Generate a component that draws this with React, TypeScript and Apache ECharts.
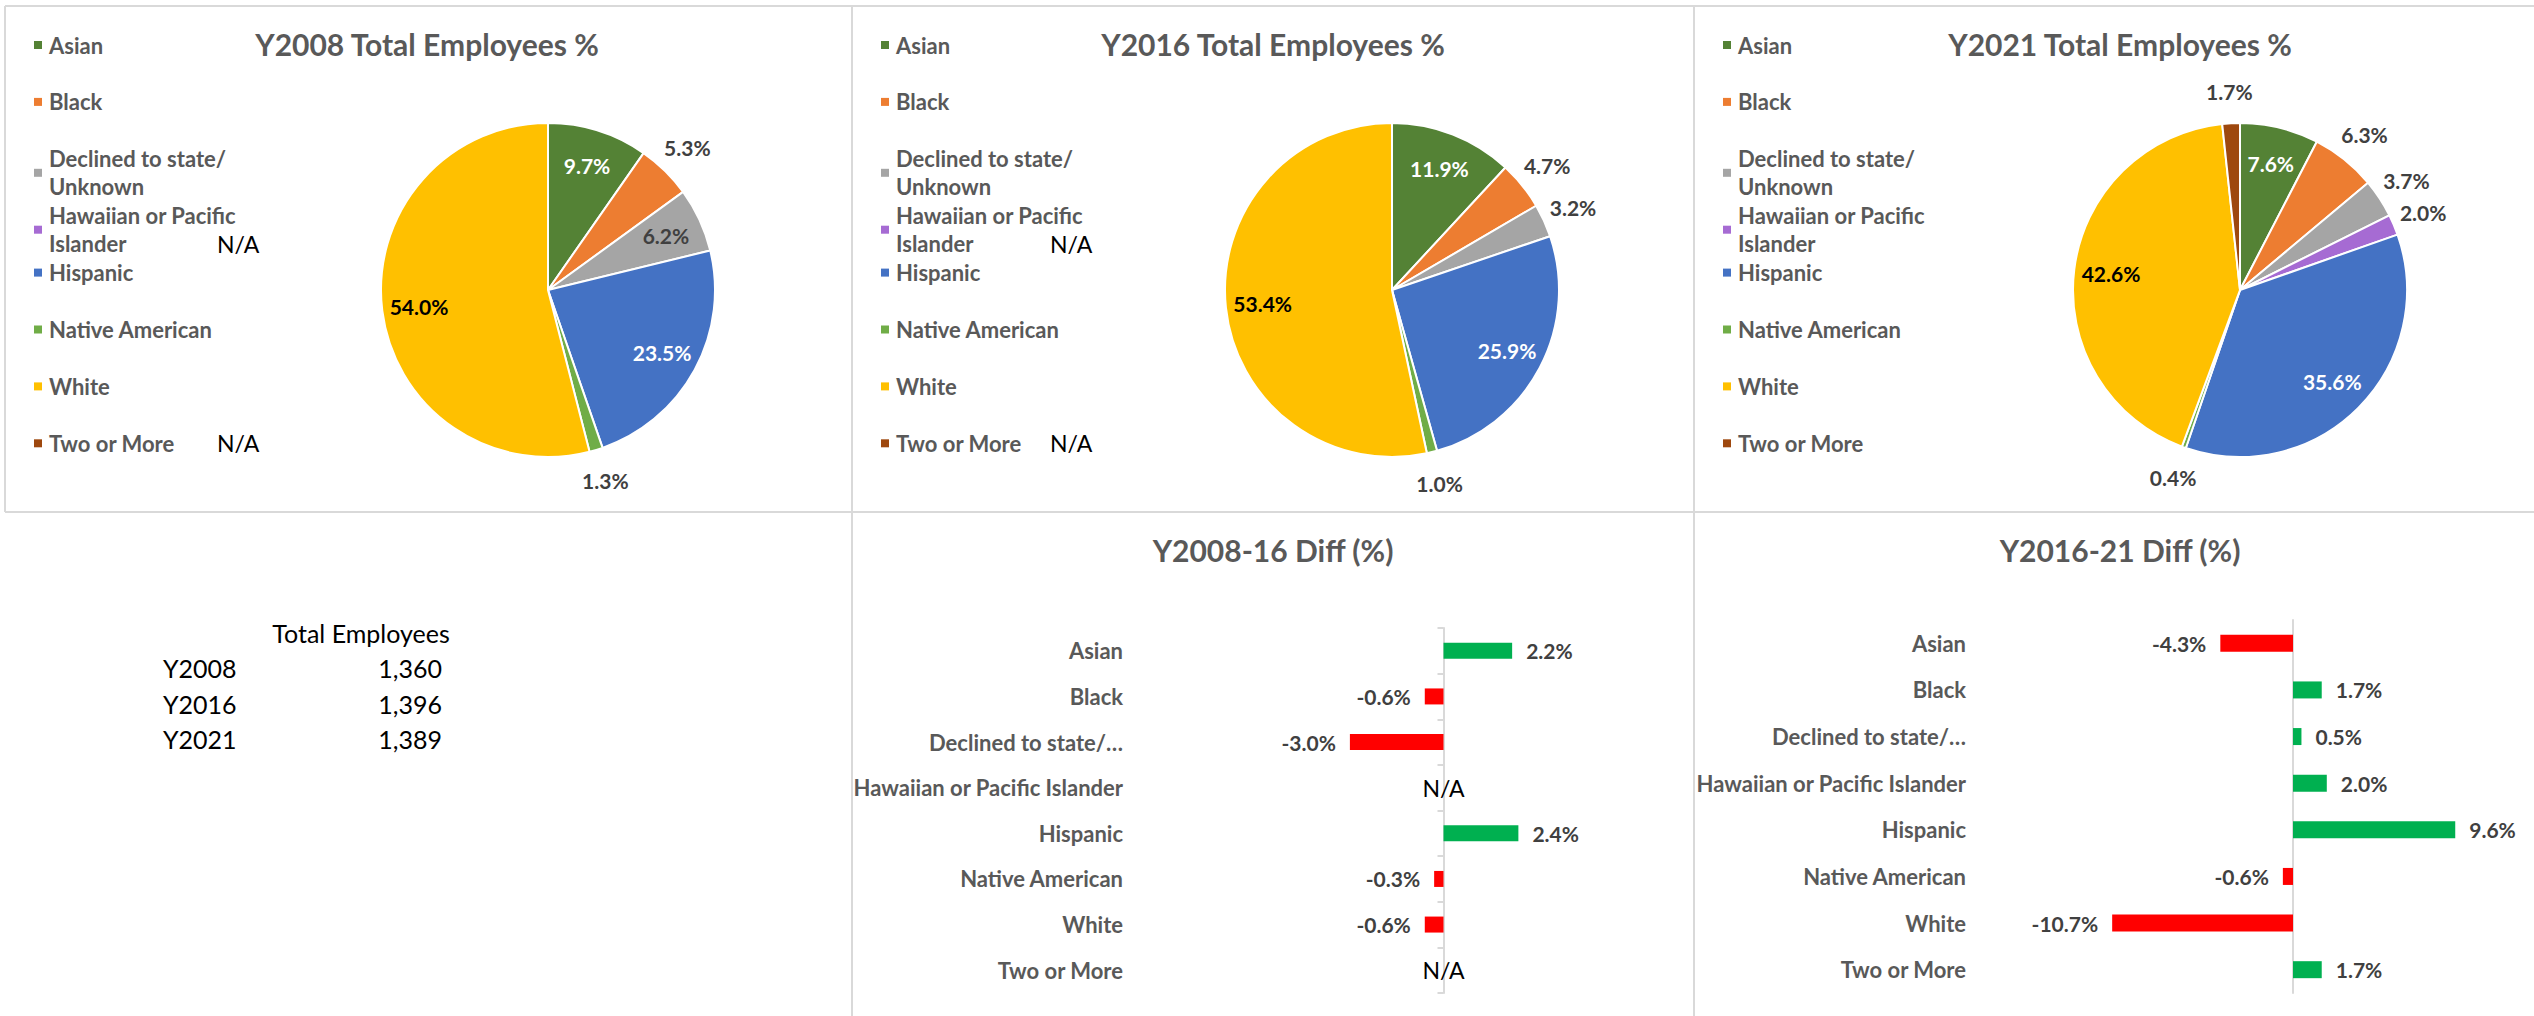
import React, { useEffect, useRef } from 'react';
import * as echarts from 'echarts';

// ---------------- DATA ----------------
const categories = [
  'Asian',
  'Black',
  'Declined to state/ Unknown',
  'Hawaiian or Pacific Islander',
  'Hispanic',
  'Native American',
  'White',
  'Two or More',
];
const pct2008: (number | null)[] = [9.7, 5.3, 6.2, null, 23.5, 1.3, 54.0, null];
const pct2016: (number | null)[] = [11.9, 4.7, 3.2, null, 25.9, 1.0, 53.4, null];
const pct2021: (number | null)[] = [7.6, 6.3, 3.7, 2.0, 35.6, 0.4, 42.6, 1.7];
const diff2008to16: (number | null)[] = [2.2, -0.6, -3.0, null, 2.4, -0.3, -0.6, null];
const diff2016to21: (number | null)[] = [-4.3, 1.7, 0.5, 2.0, 9.6, -0.6, -10.7, 1.7];
const pieTitles = ['Y2008 Total Employees %', 'Y2016 Total Employees %', 'Y2021 Total Employees %'];
const barTitles = ['Y2008-16 Diff (%)', 'Y2016-21 Diff (%)'];
const years = ['Y2008', 'Y2016', 'Y2021'];
const totalEmployees = [1360, 1396, 1389];
const tableHeader = 'Total Employees';
const naText = 'N/A';

// ---------------- STYLE / LAYOUT ----------------
const FONT = "Lato, 'Liberation Sans', sans-serif";
const TITLE_SIZE = 30;
const LEGEND_SIZE = 22;
const AXIS_SIZE = 22;
const VALUE_SIZE = 21;
const TABLE_SIZE = 25;
const NA_SIZE = 23;
const sliceColors = ['#548235', '#ED7D31', '#A5A5A5', '#A66BD3', '#4472C4', '#70AD47', '#FFC000', '#9E480E'];
const insideLabelColor = ['#FFFFFF', '#404040', '#404040', '#404040', '#FFFFFF', '#404040', '#000000', '#404040'];
const labelInside = [
  [true, false, true, false, true, false, true, false],
  [true, false, false, false, true, false, true, false],
  [true, false, false, false, true, false, true, false],
];
const legendLineCount = [1, 1, 2, 2, 1, 1, 1, 1];
const panelLeft = [5, 852, 1694];
const titleCenters = [427, 1273, 2120];
const pieCenters = [[548, 290], [1392, 290], [2240, 290]];
const pieR = 167;
const naLeft = [217, 1050];
const legendFirstY = 45;
const legendStep = 56.9;
const barTitleCenters = [1273, 2120];
const GRAY = '#595959';
const BORDER = '#D9D9D9';

const pieSets = [pct2008, pct2016, pct2021];
const barSets = [diff2008to16, diff2016to21];

function buildOption() {
  const series: any[] = [];
  // visual pies first (legend colour lookup)
  pieSets.forEach((vals, p) => {
    const items = categories
      .map((c, i) => ({ name: c, value: vals[i], i }))
      .filter((d) => d.value != null);
    series.push({
      type: 'pie',
      name: pieTitles[p],
      center: pieCenters[p],
      radius: [0, pieR],
      startAngle: 90,
      clockwise: true,
      avoidLabelOverlap: false,
      label: { show: false },
      labelLine: { show: false },
      itemStyle: { borderColor: '#FFFFFF', borderWidth: 2 },
      emphasis: { disabled: true },
      data: items.map((d) => ({ name: d.name, value: d.value, itemStyle: { color: sliceColors[d.i] } })),
    });
  });
  // label rings (transparent) for inside / outside labels
  pieSets.forEach((vals, p) => {
    const items = categories
      .map((c, i) => ({ name: c, value: vals[i], i }))
      .filter((d) => d.value != null);
    [true, false].forEach((inside) => {
      series.push({
        type: 'pie',
        name: pieTitles[p] + (inside ? ' in' : ' out'),
        center: pieCenters[p],
        radius: inside ? [87, pieR] : [180, 212],
        startAngle: 90,
        clockwise: true,
        silent: true,
        legendHoverLink: false,
        avoidLabelOverlap: false,
        emphasis: { disabled: true },
        labelLine: { show: false },
        itemStyle: { color: 'rgba(0,0,0,0)', borderWidth: 0 },
        label: {
          position: 'inside',
          fontSize: VALUE_SIZE,
          fontWeight: 'bold',
          fontFamily: FONT,
          formatter: (pp: any) => Number(pp.value).toFixed(1) + '%',
        },
        data: items.map((d) => ({
          name: d.name,
          value: d.value,
          itemStyle: { color: 'rgba(0,0,0,0)' },
          label: {
            show: labelInside[p][d.i] === inside,
            color: inside ? insideLabelColor[d.i] : '#404040',
          },
        })),
      });
    });
  });

  // bar charts
  const grids = [
    { left: 1318.7, top: 628, width: 218.4, height: 365 },
    { left: 2090.2, top: 620, width: 371.8, height: 373 },
  ];
  const xRanges = [
    [-4, 3],
    [-12, 10],
  ];
  const labelMargins = [195.7, 124.2];
  const barWidths = [16, 17];
  const xAxis: any[] = [];
  const yAxis: any[] = [];
  barSets.forEach((vals, b) => {
    xAxis.push({
      gridIndex: b,
      type: 'value',
      min: xRanges[b][0],
      max: xRanges[b][1],
      axisLine: { show: false },
      axisTick: { show: false },
      axisLabel: { show: false },
      splitLine: { show: false },
    });
    yAxis.push({
      gridIndex: b,
      type: 'category',
      data: categories,
      inverse: true,
      axisLine: { show: true, onZero: true, lineStyle: { color: BORDER, width: 2 } },
      axisTick: { show: b === 0, length: 6, lineStyle: { color: BORDER, width: 2 } },
      axisLabel: { show: false },
      splitLine: { show: false },
    });
    yAxis.push({
      gridIndex: b,
      type: 'category',
      data: categories,
      inverse: true,
      position: 'left',
      axisLine: { show: false, onZero: false },
      axisTick: { show: false },
      splitLine: { show: false },
      axisLabel: {
        show: true,
        margin: labelMargins[b],
        color: GRAY,
        fontSize: AXIS_SIZE,
        fontWeight: 'bold',
        fontFamily: FONT,
        formatter: (v: string) => (v.indexOf('/ ') >= 0 ? v.split('/ ')[0] + '/\u2026' : v),
      },
    });
    series.push({
      type: 'bar',
      name: barTitles[b],
      xAxisIndex: b,
      yAxisIndex: b * 2,
      barWidth: barWidths[b],
      silent: true,
      label: {
        show: true,
        distance: 14,
        color: '#404040',
        fontSize: VALUE_SIZE,
        fontWeight: 'bold',
        fontFamily: FONT,
        formatter: (pp: any) => Number(pp.value).toFixed(1) + '%',
      },
      data: vals.map((v) =>
        v == null
          ? {
              value: 0,
              itemStyle: { color: 'rgba(0,0,0,0)' },
              label: { position: 'inside', formatter: naText, color: '#000000', fontWeight: 'normal', fontSize: NA_SIZE },
            }
          : {
              value: v,
              itemStyle: { color: v >= 0 ? '#00B050' : '#FF0000' },
              label: { position: v >= 0 ? 'right' : 'left' },
            }
      ),
    });
  });

  // legends: one per entry so that each entry sits in an even slot
  const legends: any[] = [];
  panelLeft.forEach((pl, p) => {
    categories.forEach((c, i) => {
      legends.push({
        data: [c],
        left: pl + 29,
        top: legendFirstY + i * legendStep - 14,
        padding: 0,
        orient: 'vertical',
        selectedMode: false,
        icon: 'rect',
        itemWidth: 8,
        itemHeight: 8,
        itemStyle: { borderWidth: 0 },
        textStyle: {
          color: GRAY,
          fontSize: LEGEND_SIZE,
          fontWeight: 'bold',
          fontFamily: FONT,
          lineHeight: 28,
          width: 205,
          overflow: 'break',
          padding: [0, 0, 0, 2],
        },
      });
    });
  });

  // graphics: borders, titles, table, N/A notes
  const graphic: any[] = [];
  const line = (x1: number, y1: number, x2: number, y2: number) => ({
    type: 'line',
    silent: true,
    shape: { x1, y1, x2, y2 },
    style: { stroke: BORDER, lineWidth: 2 },
  });
  graphic.push(line(5, 6, 2534, 6));
  graphic.push(line(5, 6, 5, 512));
  graphic.push(line(5, 512, 2534, 512));
  graphic.push(line(852, 6, 852, 1016));
  graphic.push(line(1694, 6, 1694, 1016));

  const txt = (text: string, x: number, y: number, size: number, weight: string, color: string, align: string) => ({
    type: 'text',
    silent: true,
    x,
    y,
    style: {
      text,
      fill: color,
      fontSize: size,
      fontWeight: weight,
      fontFamily: FONT,
      align,
      verticalAlign: 'middle',
      textAlign: align,
      textVerticalAlign: 'middle',
    },
  });
  pieTitles.forEach((t, p) => graphic.push(txt(t, titleCenters[p], 44, TITLE_SIZE, 'bold', GRAY, 'center')));
  barTitles.forEach((t, b) => graphic.push(txt(t, barTitleCenters[b], 550, TITLE_SIZE, 'bold', GRAY, 'center')));

  // N/A notes beside the pie legends for missing categories
  [pct2008, pct2016].forEach((vals, p) => {
    vals.forEach((v, i) => {
      if (v == null) {
        const y = legendFirstY + i * legendStep + (legendLineCount[i] - 1) * 28;
        graphic.push(txt(naText, naLeft[p], y, NA_SIZE, 'normal', '#000000', 'left'));
      }
    });
  });

  // totals table
  graphic.push(txt(tableHeader, 361, 633, TABLE_SIZE, 'normal', '#000000', 'center'));
  years.forEach((y, r) => {
    const yy = 668 + r * 35.5;
    graphic.push(txt(y, 163, yy, TABLE_SIZE, 'normal', '#000000', 'left'));
    graphic.push(txt(totalEmployees[r].toLocaleString('en-US'), 442, yy, TABLE_SIZE, 'normal', '#000000', 'right'));
  });

  return {
    animation: false,
    backgroundColor: '#FFFFFF',
    textStyle: { fontFamily: FONT },
    legend: legends,
    grid: grids,
    xAxis,
    yAxis,
    series,
    graphic,
  };
}

export default function App() {
  const ref = useRef<HTMLDivElement>(null);
  useEffect(() => {
    if (!ref.current) return;
    const chart = echarts.init(ref.current, undefined, { renderer: 'svg', width: 2534, height: 1016 });
    chart.setOption(buildOption() as any);
    return () => chart.dispose();
  }, []);
  return (
    <div
      ref={ref}
      style={{ position: 'fixed', left: 0, top: 0, width: 2534, height: 1016, background: '#FFFFFF' }}
    />
  );
}
